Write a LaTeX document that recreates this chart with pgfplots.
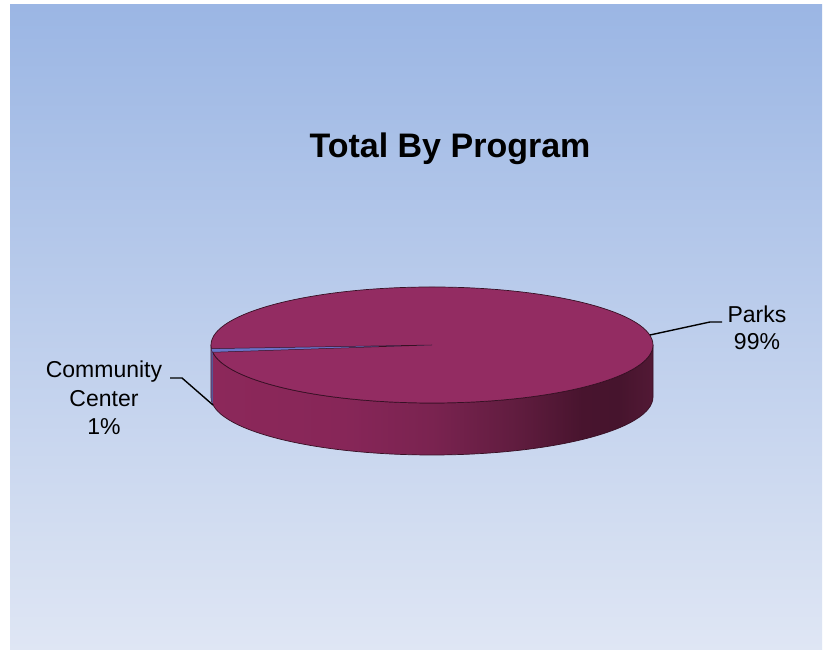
\documentclass[border=0pt]{standalone}
\usepackage{fontspec}
\setmainfont{Liberation Sans}
\usepackage{pgfplots}
\pgfplotsset{compat=1.18}
\definecolor{bgtop}{RGB}{155,182,228}
\definecolor{bgbot}{RGB}{223,230,244}
\definecolor{pietop}{RGB}{147,44,98}
\definecolor{pieedge}{RGB}{55,16,36}
\definecolor{ccblue}{RGB}{105,115,200}
\definecolor{ccside}{RGB}{85,88,150}
\definecolor{s1}{RGB}{140,40,90}
\definecolor{s2}{RGB}{135,38,88}
\definecolor{s3}{RGB}{122,35,80}
\definecolor{s4}{RGB}{95,28,62}
\definecolor{s5}{RGB}{72,20,46}
\definecolor{s6}{RGB}{70,20,45}
\definecolor{s7}{RGB}{82,25,53}
\pgfdeclarehorizontalshading{sidewall}{100bp}{color(0bp)=(s1); color(25bp)=(s1); color(40bp)=(s2); color(50bp)=(s3); color(60bp)=(s4); color(67bp)=(s5); color(71bp)=(s6); color(75bp)=(s7); color(100bp)=(s7)}
% data (percent of total)
\def\valParks{99}
\def\valCC{1}
\begin{document}
\begin{tikzpicture}[x=1pt,y=1pt]
\pgfmathsetmacro\aA{183.6}
\pgfmathsetmacro\aB{\aA+360*\valCC/(\valCC+\valParks)}
\pgfmathsetmacro\xA{432+221*cos(\aA)}
\pgfmathsetmacro\yA{305+58*sin(\aA)}
\pgfmathsetmacro\xB{432+221*cos(\aB)}
\pgfmathsetmacro\yB{305+58*sin(\aB)}
\fill[white] (0,0) rectangle (825,650);
\shade[top color=bgtop, bottom color=bgbot] (10,0) rectangle (822,645);
\begin{axis}[at={(0,0)}, anchor=south west, width=825pt, height=650pt,
  scale only axis, xmin=0, xmax=825, ymin=0, ymax=650, hide axis, clip=false]
% side wall
\shadedraw[shading=sidewall, draw=pieedge, line width=0.7pt]
  (axis cs:211,305) arc[start angle=180, end angle=360, x radius=221, y radius=58]
  -- (axis cs:653,253) arc[start angle=0, end angle=-180, x radius=221, y radius=58] -- cycle;
% community center side strip
\fill[ccside] (axis cs:\xA,\yA) arc[start angle=\aA, end angle=\aB, x radius=221, y radius=58]
  -- (axis cs:\xB,\yB-52) arc[start angle=\aB, end angle=\aA, x radius=221, y radius=58] -- cycle;
% top face (Parks)
\filldraw[fill=pietop, draw=pieedge, line width=0.7pt] (axis cs:432,305) ellipse [x radius=221, y radius=58];
% community center top wedge
\fill[ccblue] (axis cs:432,305) -- (axis cs:\xA,\yA) arc[start angle=\aA, end angle=\aB, x radius=221, y radius=58] -- cycle;
\draw[pieedge, line width=0.5pt] (axis cs:\xA,\yA) -- (axis cs:432,305) -- (axis cs:\xB,\yB);
% leader lines
\addplot[black, line width=1.4pt, no marks] coordinates {(650,315) (710,328) (722,328)};
\addplot[black, line width=1.4pt, no marks] coordinates {(170,272) (182,272) (213,245)};
% labels
\node[anchor=base, font=\fontsize{23}{28}\selectfont] at (axis cs:757,327) {Parks};
\node[anchor=base, font=\fontsize{23}{28}\selectfont] at (axis cs:757,300) {99\%};
\node[anchor=base, font=\fontsize{23}{28}\selectfont] at (axis cs:104,272) {Community};
\node[anchor=base, font=\fontsize{23}{28}\selectfont] at (axis cs:104,243) {Center};
\node[anchor=base, font=\fontsize{23}{28}\selectfont] at (axis cs:104,215) {1\%};
% title
\node[anchor=base, font=\fontsize{34}{40}\selectfont\bfseries] at (axis cs:450,492) {Total By Program};
\end{axis}
\end{tikzpicture}
\end{document}
